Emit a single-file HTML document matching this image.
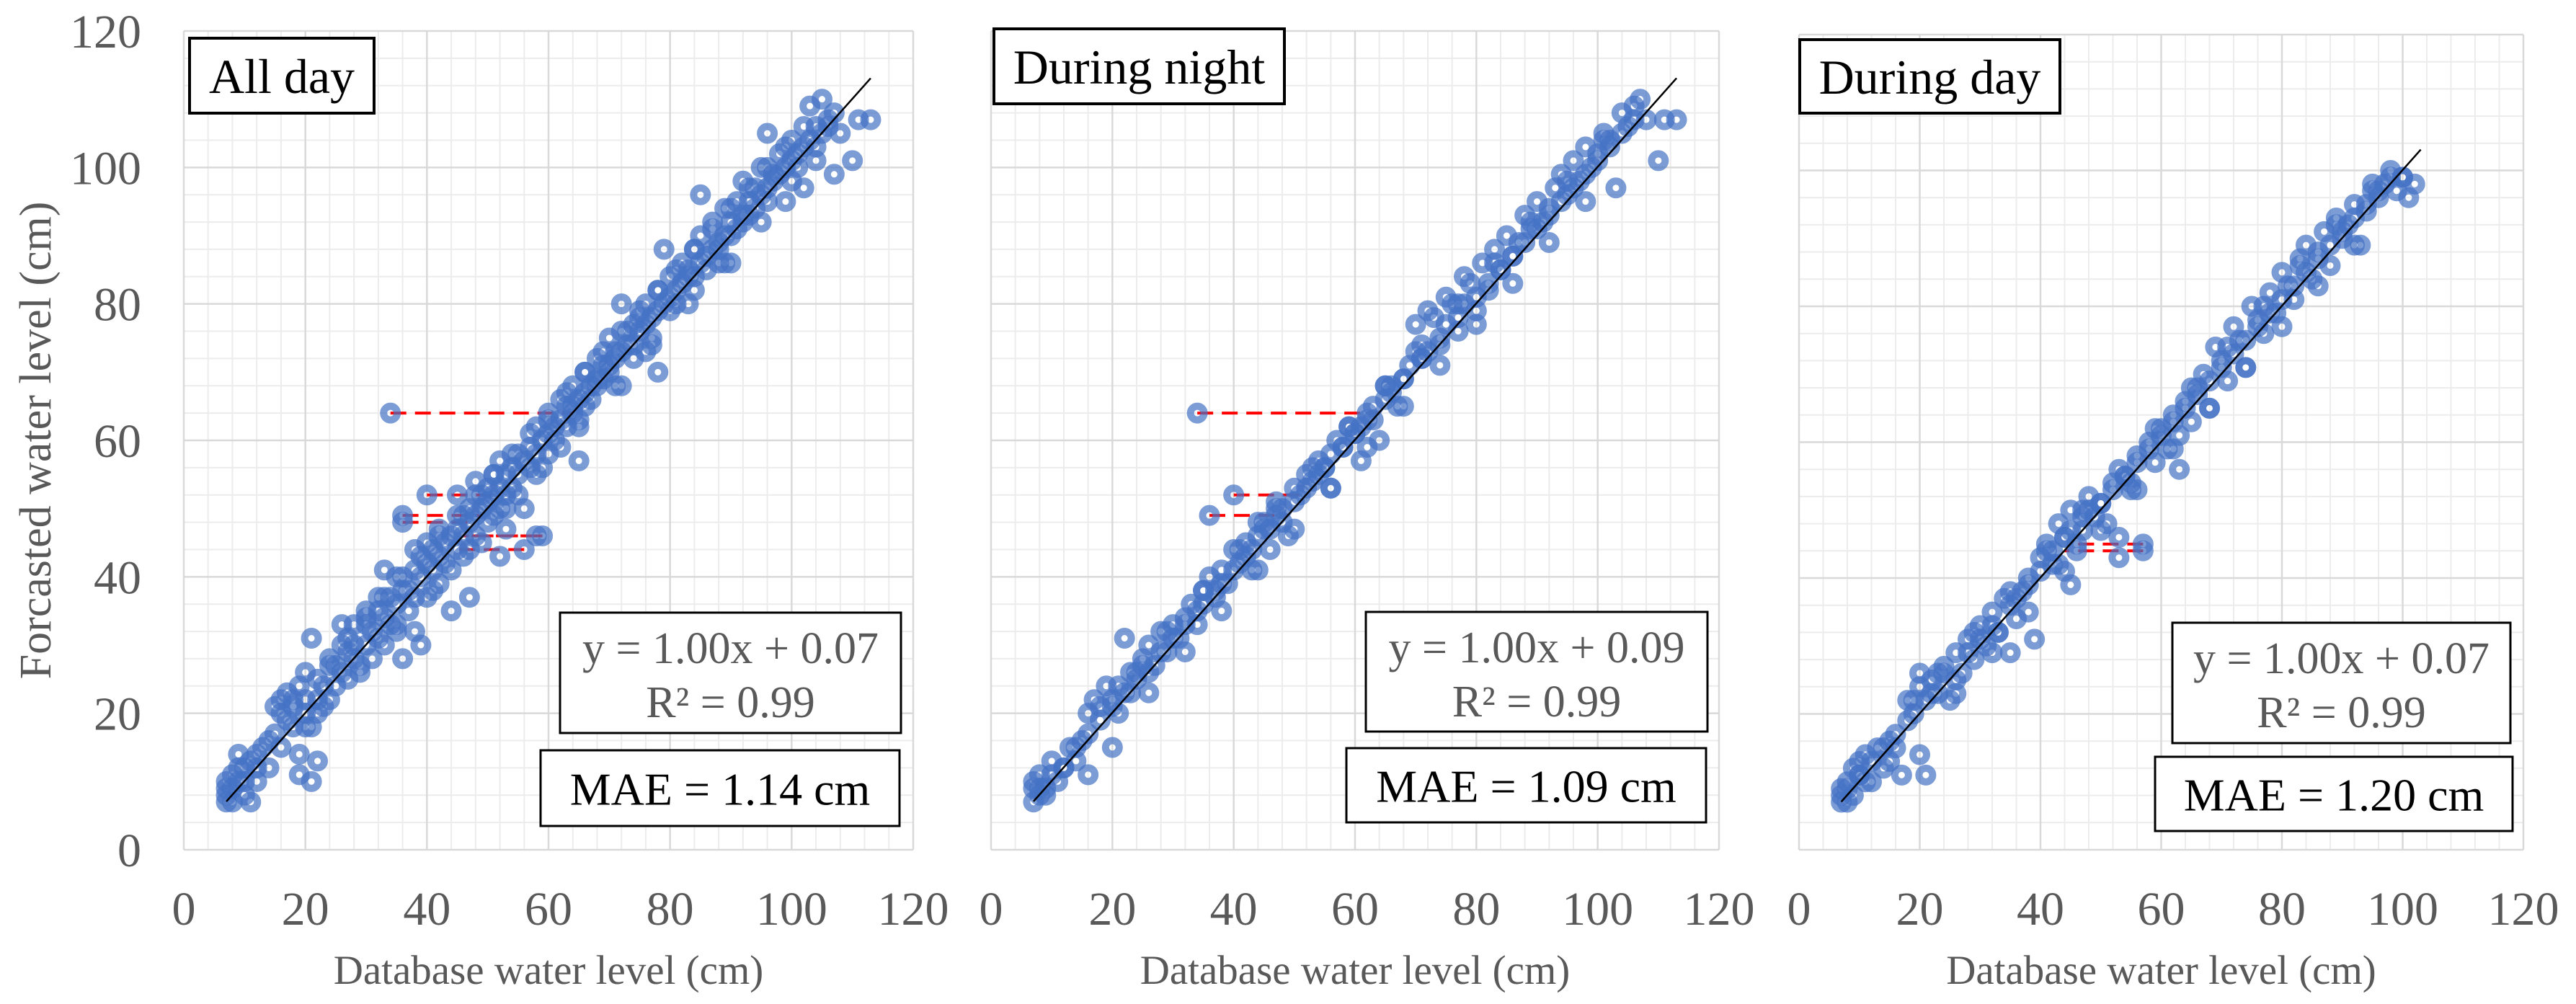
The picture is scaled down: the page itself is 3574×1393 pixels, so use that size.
<!DOCTYPE html>
<html><head><meta charset="utf-8"><style>
html,body{margin:0;padding:0;background:#fff;}
svg{display:block;}
svg text{font-family:"Liberation Serif","Times New Roman",serif;}
</style></head><body>
<svg id="fig" width="3574" height="1393" viewBox="0 0 3574 1393"></svg>
<script>
const xTicks=[0,20,40,60,80,100,120];
const yTicks=[0,20,40,60,80,100,120];
const titles=["All day","During night","During day"];
const eqTexts=["y = 1.00x + 0.07","y = 1.00x + 0.09","y = 1.00x + 0.07"];
const r2Texts=["R² = 0.99","R² = 0.99","R² = 0.99"];
const maeTexts=["MAE = 1.14 cm","MAE = 1.09 cm","MAE = 1.20 cm"];
const slopes=[1.00,1.00,1.00];
const intercepts=[0.07,0.09,0.07];
const fitRangeX=[[7,113],[7,113],[7,103]];
const allDayActual=[7,7,7,7,8,8,9,9,9,10,10,11,11,12,13,14,15,15,16,17,17,18,19,19,19,20,20,20,21,21,22,22,23,24,25,26,27,28,29,30,31,32,33,33,34,35,36,36,37,38,38,39,40,40,41,42,43,44,44,45,46,47,47,48,49,50,51,52,53,54,55,56,57,58,58,59,60,60,61,62,63,64,65,65,66,67,68,69,70,71,72,72,73,74,75,76,77,78,78,79,80,81,82,83,84,85,85,86,87,88,89,90,90,91,92,93,94,95,96,97,98,99,100,101,102,103,104,105,106,107,108,110,111,113,34,36,36,40,58,56,52,45,48,50,52,55,42,40,38,35,32,30,28,26,24,22,18,16,12,46,49,51,53,62,64,66,68,70,74,76,80,84,88,92,96,100,104,
8,10,12,14,16,18,20,22,23,25,26,27,28,30,31,32,33,34,35,37,38,39,41,42,43,44,45,46,47,48,49,50,51,52,53,54,55,56,57,58,59,60,61,62,63,64,65,66,67,68,69,70,71,72,73,74,75,76,77,78,79,80,81,82,83,84,85,86,87,88,89,90,91,92,93,94,95,96,97,98,99,100,101,102,103,104,105,106,107,
24,27,30,33,36,39,42,45,48,51,54,57,60,63,66,69,72,75,78,81,84,87,90,93,96,99,102,21,29,35,41,47,53,59,65,71,77,83,89,95];
const allDayForecast=[7,8,9,10,7,9,10,12,14,8,12,7,13,10,15,12,17,21,22,19,23,21,11,14,24,18,22,26,10,31,13,20,24,22,27,33,25,30,27,33,28,35,41,30,37,33,28,38,35,41,32,30,42,37,44,39,45,41,35,47,43,50,37,46,52,48,55,50,47,56,52,50,59,55,62,46,58,63,60,66,62,68,63,57,70,66,72,69,75,73,68,80,76,72,78,80,75,82,70,88,84,80,86,84,88,90,96,85,92,88,94,90,86,95,98,93,97,100,105,99,102,95,104,100,97,109,103,110,107,99,105,101,107,107,64,48,49,52,46,44,43,52,54,53,57,58,47,45,44,40,37,35,33,30,27,25,22,20,14,49,45,49,52,59,64,65,69,71,77,73,79,82,86,93,95,98,101,
11,10,12,16,15,18,20,22,21,24,26,29,28,30,32,31,34,33,36,38,37,40,41,43,42,46,44,46,48,49,50,51,52,53,55,53,55,57,56,58,60,61,62,63,65,65,66,67,68,68,71,70,72,73,74,74,76,77,78,79,80,81,82,83,85,84,86,87,88,89,90,92,91,92,95,94,96,97,98,99,100,101,102,103,104,106,105,106,108,
28,31,34,37,40,43,46,49,52,55,58,61,64,67,70,73,76,79,82,85,88,91,94,97,100,103,106,18,26,32,38,44,50,56,62,68,74,80,86,92];
const nightActual=[7,7,7,8,8,9,10,11,12,13,14,15,16,17,18,19,20,21,21,22,23,24,25,26,27,28,29,30,31,32,33,34,35,36,36,37,38,39,40,41,42,43,44,45,46,47,48,49,50,51,52,53,54,55,56,57,58,59,60,61,62,63,64,65,66,67,68,70,70,71,72,73,74,75,76,77,78,79,80,81,82,83,84,85,86,87,88,89,90,91,92,93,94,95,96,97,98,99,100,101,102,103,104,105,106,107,108,110,111,113,34,40,45,16,20,
8,9,10,12,14,16,18,20,22,24,25,26,28,30,32,34,35,37,38,40,42,43,44,46,47,48,50,52,54,55,56,58,60,61,62,63,65,66,68,69,71,72,74,75,77,78,80,82,84,86,88,90,92,94,96,98,100,102,104,106,
23,29,35,41,47,53,59,65,71,77,83,89,95,101,26,32,38,44,50,56,62,68,74,80,86,92,98];
const nightForecast=[7,9,10,8,11,9,13,10,12,15,13,16,20,22,21,24,22,20,24,31,23,26,28,30,27,32,29,33,31,34,36,33,38,40,49,37,41,39,44,42,45,41,48,47,44,51,50,46,53,52,55,54,57,56,53,60,59,62,61,57,64,63,60,68,67,65,69,77,73,72,79,78,74,81,80,76,84,83,79,86,82,88,85,90,87,89,93,91,95,92,94,97,99,96,101,98,103,100,102,105,104,97,108,106,109,110,107,101,107,107,64,52,48,11,15,
9,8,11,12,15,17,19,21,23,25,27,26,29,31,33,35,36,38,39,41,43,44,46,47,49,48,51,53,55,56,58,59,61,62,63,65,66,68,69,71,72,73,75,77,78,80,81,83,85,87,89,91,93,95,97,99,101,103,105,107,
26,32,38,44,50,56,62,68,74,80,86,92,98,104,23,29,35,41,47,53,59,65,71,77,83,89,95];
const dayActual=[7,7,7,8,8,9,9,10,10,11,12,13,14,15,15,16,17,18,19,20,20,21,22,23,24,25,26,27,28,29,30,31,32,33,34,35,36,37,38,39,40,41,42,43,44,45,46,47,48,49,50,51,52,53,54,55,56,57,58,59,60,61,62,63,64,65,66,67,68,69,70,71,72,73,74,75,76,77,78,79,80,81,82,83,84,85,86,87,88,89,90,91,92,93,94,95,96,97,98,99,100,101,102,19,20,53,57,45,63,
8,10,11,12,14,16,18,21,22,24,26,28,30,32,33,35,36,38,40,42,43,44,45,46,47,48,50,52,54,55,56,58,60,62,64,66,68,70,72,74,76,78,80,82,84,86,88,90,92,94,96,98,100,
23,29,35,41,47,53,59,65,71,77,83,89,95,26,32,38,44,50,56,62,68,74,80,86,92];
const dayForecast=[7,8,9,7,10,12,8,13,11,14,10,15,12,16,13,17,11,22,20,24,14,11,25,23,27,22,29,26,31,28,33,30,35,32,37,29,34,38,40,31,43,45,42,48,46,50,44,47,52,49,51,48,54,46,55,53,58,44,60,57,62,59,64,61,66,63,68,70,65,74,72,69,77,75,71,80,78,76,82,79,85,83,81,87,89,84,88,91,86,93,90,92,95,89,94,97,96,98,100,97,99,96,98,22,26,43,45,39,56,
9,11,10,13,15,15,19,22,23,26,25,29,31,33,32,36,37,39,41,44,42,46,47,45,49,50,51,53,55,54,57,59,61,63,65,67,69,71,73,75,77,79,81,83,85,87,89,91,93,95,97,99,99,
26,32,38,44,50,56,62,68,74,80,86,92,98,23,29,35,41,47,53,59,65,71,77,83,89];
const seriesX=[allDayActual,nightActual,dayActual];
const seriesY=[allDayForecast,nightForecast,dayForecast];

const NS="http://www.w3.org/2000/svg";
const svg=document.getElementById('fig');
function mk(tag,attrs,parent){const e=document.createElementNS(NS,tag);for(const k in attrs)e.setAttribute(k,attrs[k]);(parent||svg).appendChild(e);return e;}
const FF='"Liberation Serif", serif';

const panels=[
 {l:255,r:1267,t:43,b:1179,title:[263,53,256,104],eq:[777,850,473,167],mae:[750,1041,498,105]},
 {l:1375,r:2385,t:43,b:1179,title:[1379,40,403,104],eq:[1895,849,474,166],mae:[1868,1038,499,103]},
 {l:2496,r:3501,t:48,b:1179,title:[2497,55,361,102],eq:[3014,864,469,167],mae:[2990,1050,496,103]}
];

panels.forEach((p,i)=>{
  const sx=v=>p.l+(v-0)/120*(p.r-p.l);
  const sy=v=>p.b-(v-0)/120*(p.b-p.t);
  const g=mk('g',{});
  
  
  for(let v=0;v<=120;v+=4){
    if(v%20===0)continue;
    mk('line',{x1:sx(v),x2:sx(v),y1:p.t,y2:p.b,stroke:'#ececec','stroke-width':2},g);
    mk('line',{x1:p.l,x2:p.r,y1:sy(v),y2:sy(v),stroke:'#ececec','stroke-width':2},g);
  }
  xTicks.forEach(v=>{const ln=mk('line',{x1:sx(v),x2:sx(v),y1:p.t,y2:p.b,stroke:'#d9d9d9','stroke-width':2.5},g);
    });
  yTicks.forEach(v=>{const ln=mk('line',{x1:p.l,x2:p.r,y1:sy(v),y2:sy(v),stroke:'#d9d9d9','stroke-width':2.5},g);
    });
  xTicks.forEach(v=>{const t=mk('text',{x:sx(v),y:1283,'font-size':66,fill:'#595959','text-anchor':'middle','font-family':FF},g);t.textContent=v;
    });
  const xt=mk('text',{x:(p.l+p.r)/2,y:1365,'font-size':57,fill:'#595959','text-anchor':'middle','font-family':FF},g);
  xt.textContent='Database water level (cm)';
  
  if(i===0){
    yTicks.forEach(v=>{const t=mk('text',{x:196,y:sy(v)+23,'font-size':66,fill:'#595959','text-anchor':'end','font-family':FF},g);t.textContent=v;
      });
    const yt=mk('text',{x:0,y:0,'font-size':62,fill:'#595959','text-anchor':'middle','font-family':FF,transform:'translate(70,'+((p.t+p.b)/2)+') rotate(-90)'},g);
    yt.textContent='Forcasted water level (cm)';
    
  }
  const X=seriesX[i],Y=seriesY[i];
  X.forEach((x,k)=>{const y=Y[k];if(Math.abs(x-y)>=12){
    const d=mk('line',{x1:sx(x),x2:sx(y),y1:sy(y),y2:sy(y),stroke:'#ff0000','stroke-width':4,'stroke-dasharray':'22 12'},g);
    }});
  X.forEach((x,k)=>{const c=mk('circle',{cx:sx(x),cy:sy(Y[k]),r:9.5,fill:'none',stroke:'#4472c4','stroke-width':10,'stroke-opacity':0.7},g);
    });
  const fr=fitRangeX[i];
  const tl=mk('line',{x1:sx(fr[0]),y1:sy(slopes[i]*fr[0]+intercepts[i]),x2:sx(fr[1]),y2:sy(slopes[i]*fr[1]+intercepts[i]),stroke:'#000','stroke-width':2.5},g);
  
  const tb=p.title;
  const tr=mk('rect',{x:tb[0],y:tb[1],width:tb[2],height:tb[3],fill:'#fff',stroke:'#000','stroke-width':4},g);
  
  const tt=mk('text',{x:tb[0]+tb[2]/2,y:tb[1]+tb[3]/2+24,'font-size':68,fill:'#000','text-anchor':'middle','font-family':FF},g);
  tt.textContent=titles[i];
  const eb=p.eq;
  const er=mk('rect',{x:eb[0],y:eb[1],width:eb[2],height:eb[3],fill:'#fff',stroke:'#000','stroke-width':3},g);
  
  const e1=mk('text',{x:eb[0]+eb[2]/2,y:eb[1]+70,'font-size':62,fill:'#595959','text-anchor':'middle','font-family':FF},g);
  e1.textContent=eqTexts[i];
  const e2=mk('text',{x:eb[0]+eb[2]/2,y:eb[1]+145,'font-size':62,fill:'#595959','text-anchor':'middle','font-family':FF},g);
  e2.textContent=r2Texts[i];
  const mb=p.mae;
  const mr=mk('rect',{x:mb[0],y:mb[1],width:mb[2],height:mb[3],fill:'#fff',stroke:'#000','stroke-width':3},g);
  
  const mt=mk('text',{x:mb[0]+mb[2]/2,y:mb[1]+mb[3]/2+23,'font-size':64,fill:'#000','text-anchor':'middle','font-family':FF},g);
  mt.textContent=maeTexts[i];
});
</script>
</body></html>
